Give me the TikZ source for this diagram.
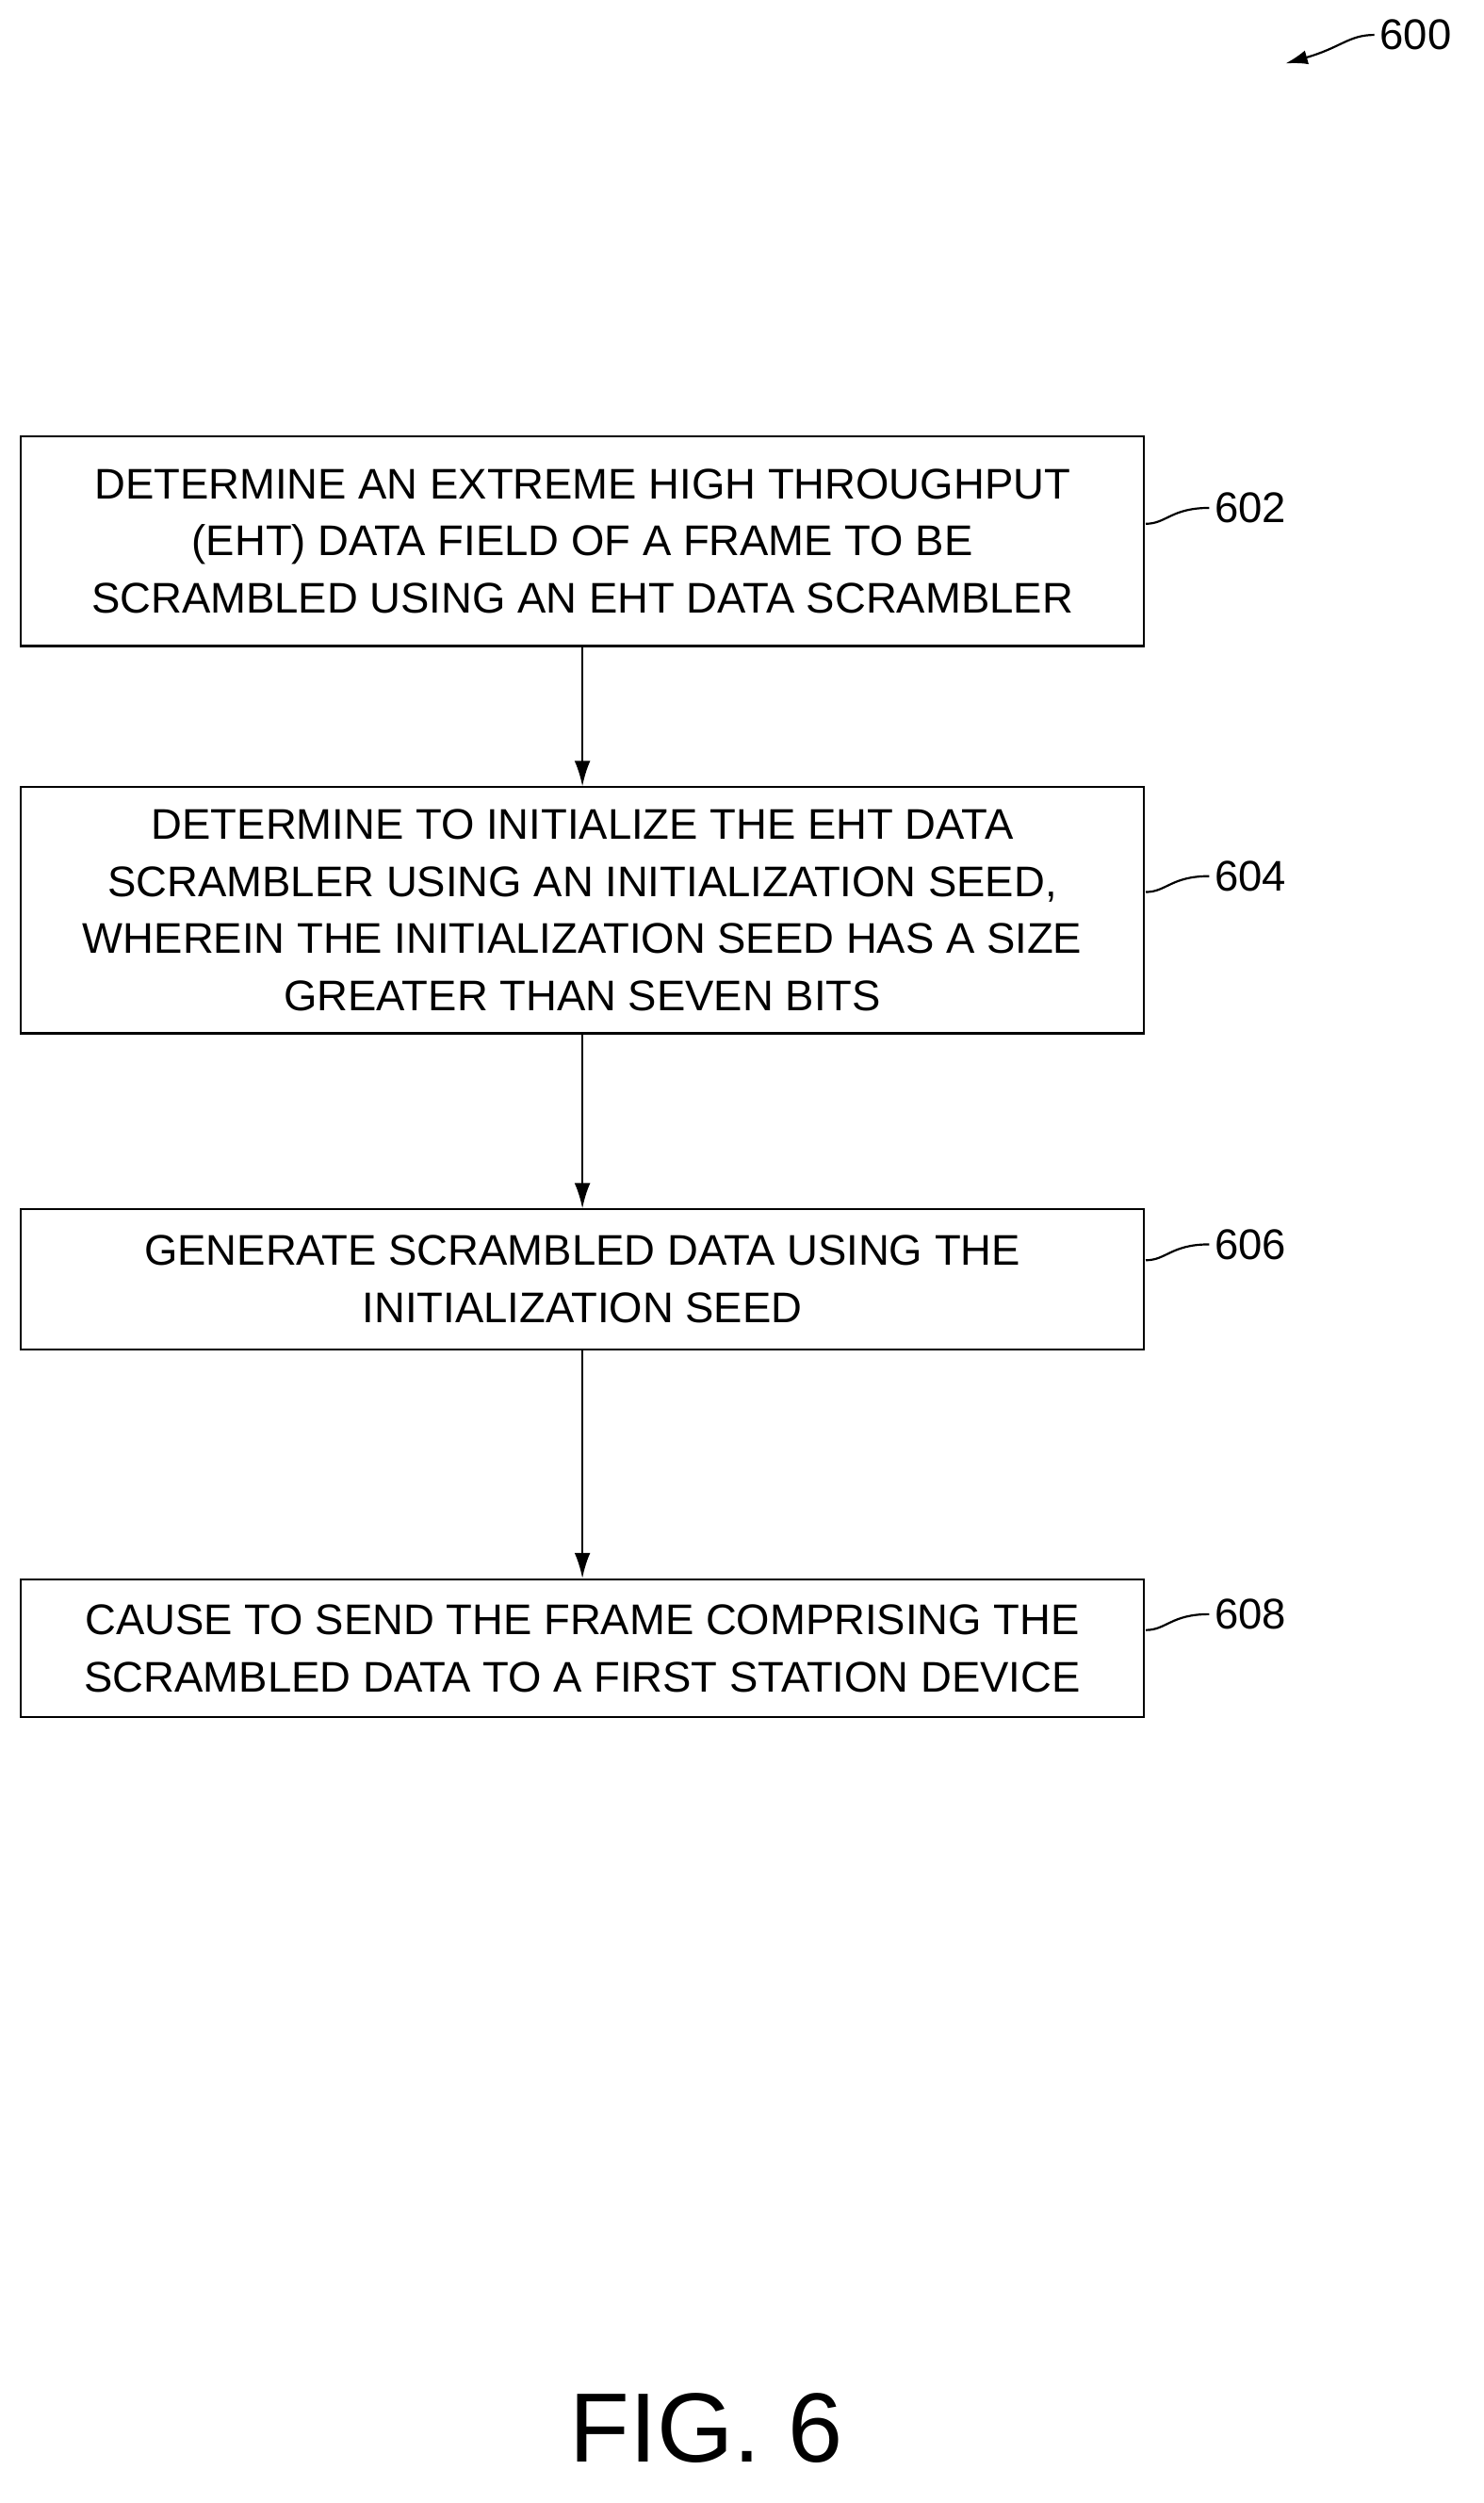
\documentclass[tikz,border=0pt]{standalone}
\usepackage{fontspec}
\setmainfont{Liberation Sans}
\usetikzlibrary{arrows.meta}
\begin{document}
\begin{tikzpicture}[x=1pt,y=-1pt,
   stage/.style={draw,line width=1.3pt,minimum width=708pt,align=center,font=\fontsize{27}{36}\selectfont,inner sep=0pt},
   flow/.style={-{Latex[length=16pt,width=10pt]},line width=1.3pt},
   tag/.style={font=\fontsize{27}{32}\selectfont,anchor=west}]
   \useasboundingbox (0,0) rectangle (935,1577);
   \node[stage,minimum height=132pt] (det) at (367,341) {DETERMINE AN EXTREME HIGH THROUGHPUT\\(EHT) DATA FIELD OF A FRAME TO BE\\SCRAMBLED USING AN EHT DATA SCRAMBLER};
   \node[stage,minimum height=155pt] (init) at (367,573.5) {DETERMINE TO INITIALIZE THE EHT DATA\\SCRAMBLER USING AN INITIALIZATION SEED,\\WHEREIN THE INITIALIZATION SEED HAS A SIZE\\GREATER THAN SEVEN BITS};
   \node[stage,minimum height=88pt] (gen) at (367,806) {GENERATE SCRAMBLED DATA USING THE\\INITIALIZATION SEED};
   \node[stage,minimum height=87pt] (send) at (367,1038.5) {CAUSE TO SEND THE FRAME COMPRISING THE\\SCRAMBLED DATA TO A FIRST STATION DEVICE};
   \draw[flow] (det)--(init);
   \draw[flow] (init)--(gen);
   \draw[flow] (gen)--(send);
   % reference numerals
   \node[tag] (n602) at (762,320) {602};
   \node[tag] (n604) at (762,552) {604};
   \node[tag] (n606) at (762,784) {606};
   \node[tag] (n608) at (762,1017) {608};
   \foreach \n/\y in {602/320,604/552,606/784,608/1017}
      \draw[line width=1.3pt] (722,\y+10) .. controls (735,\y+10) and (738,\y) .. (n\n.west);
   \node[tag] (n600) at (866,22) {600};
   \draw[-{Latex[length=14pt,width=9pt]},line width=1.3pt] (n600.west) .. controls (850,22) and (845,30) .. (810,40);
   \node[font=\fontsize{62}{62}\selectfont] (fig) at (445,1530) {FIG. 6};
\end{tikzpicture}
\end{document}
